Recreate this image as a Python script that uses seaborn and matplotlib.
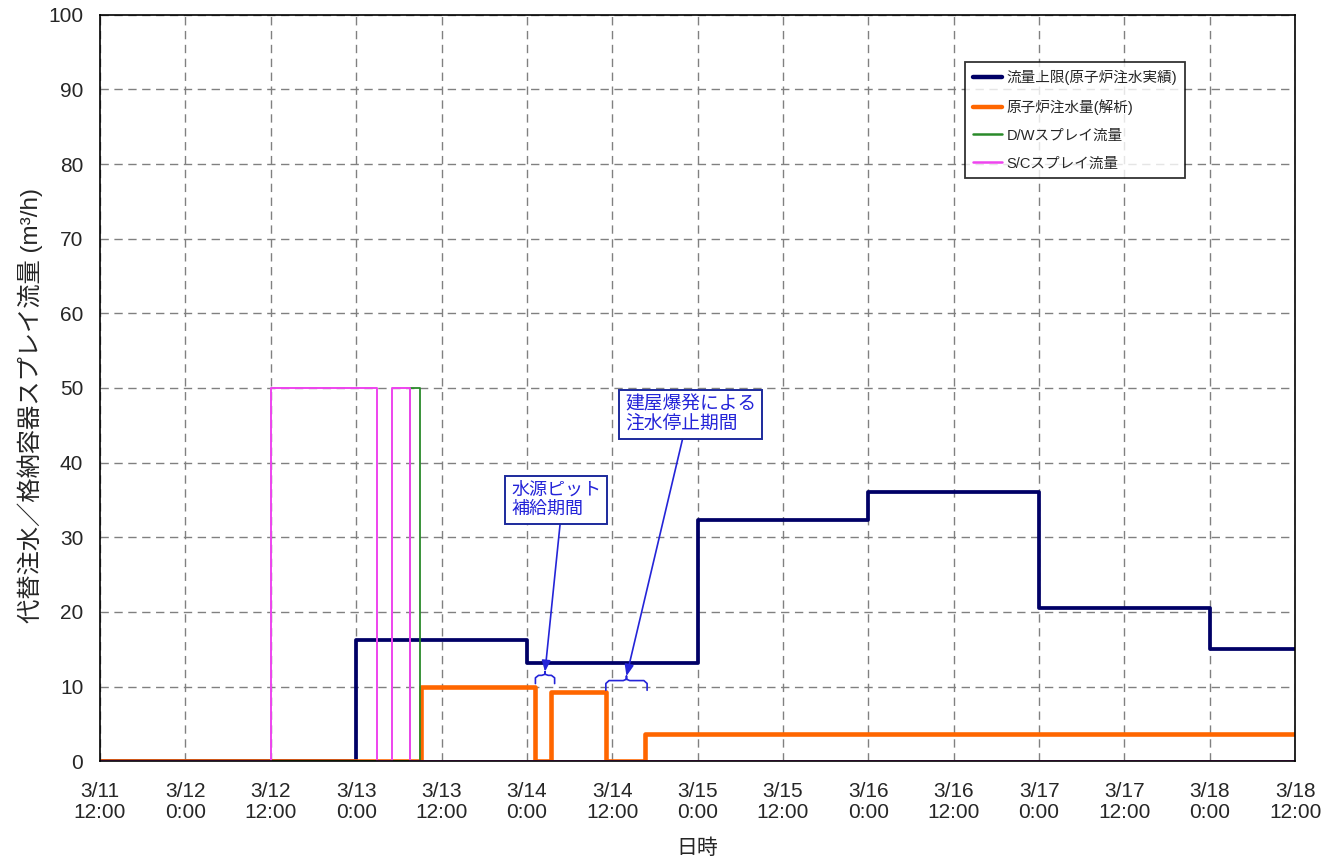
import numpy as np
import pandas as pd
import matplotlib
matplotlib.use("Agg")
import matplotlib.pyplot as plt
import seaborn as sns

# Hours elapsed since 3/11 12:00
x_ticks = list(range(0, 169, 12))
x_tick_labels = ["3/11\n12:00", "3/12\n0:00", "3/12\n12:00", "3/13\n0:00", "3/13\n12:00",
                 "3/14\n0:00", "3/14\n12:00", "3/15\n0:00", "3/15\n12:00", "3/16\n0:00",
                 "3/16\n12:00", "3/17\n0:00", "3/17\n12:00", "3/18\n0:00", "3/18\n12:00"]
y_ticks = list(range(0, 101, 10))

# Step series: time of each change (h) and the value held from that time on (m3/h)
limit_t = [0, 36, 60, 84, 108, 132, 156, 168]
limit_v = [0, 16.2, 13.2, 32.3, 36.0, 20.5, 15.0, 15.0]

rpv_t = [0, 45.1, 61.2, 63.4, 71.1, 76.6, 168]
rpv_v = [0, 10.0, 0, 9.3, 0, 3.6, 3.6]

dw_t = [0, 43.6, 45.0, 168]
dw_v = [0, 50, 0, 0]

sc_t = [0, 24.0, 39.0, 41.1, 43.6, 168]
sc_v = [0, 50, 0, 50, 0, 0]

series_names = ["流量上限(原子炉注水実績)", "原子炉注水量(解析)", "D/Wスプレイ流量", "S/Cスプレイ流量"]
series_colors = ["#000066", "#ff6600", "#2a8a2a", "#ee44ee"]
series_widths = [2.7, 3.3, 1.3, 1.4]

sns.set_theme(style="white")
plt.rcParams["font.family"] = ["Liberation Sans", "Noto Sans CJK JP", "DejaVu Sans"]

fig = plt.figure(figsize=(13.23, 8.65), dpi=100)
ax = fig.add_axes([0.0756, 0.120, 0.9034, 0.863])

for (t, v), name, c, lw in zip([(limit_t, limit_v), (rpv_t, rpv_v), (dw_t, dw_v), (sc_t, sc_v)],
                               series_names, series_colors, series_widths):
    df = pd.DataFrame({"t": t, "v": v})
    sns.lineplot(data=df, x="t", y="v", ax=ax, drawstyle="steps-post", estimator=None,
                 sort=False, color=c, linewidth=lw, label=name)

ax.set_xlim(0, 168)
ax.set_ylim(0, 100)
ax.set_xticks(x_ticks)
ax.set_xticklabels(x_tick_labels, fontsize=15, linespacing=1.12)
ax.set_yticks(y_ticks)
ax.set_yticklabels([str(v) for v in y_ticks], fontsize=15)
ax.tick_params(direction="in", length=4, color="black")
ax.tick_params(axis="y", pad=12)
ax.tick_params(axis="x", pad=15)
ax.grid(True, linestyle=(0, (6, 4)), color="#808080", linewidth=1.0)
for s in ax.spines.values():
    s.set_color("black")
    s.set_linewidth(1.2)

ax.set_xlabel("日時", fontsize=15, labelpad=12)
ax.set_ylabel("代替注水／格納容器スプレイ流量 (m³/h)", fontsize=17.5)
ax.yaxis.set_label_coords(-0.048, 0.477)

leg = ax.legend(loc="upper right", bbox_to_anchor=(0.908, 0.937), fontsize=10.5,
                frameon=True, fancybox=False, handlelength=2.0, borderpad=0.55,
                labelspacing=0.95, handletextpad=0.3, borderaxespad=0)
leg.get_frame().set_edgecolor("black")
leg.get_frame().set_linewidth(1.3)
for h, lw in zip(leg.get_lines(), [3.2, 3.2, 1.8, 1.8]):
    h.set_linewidth(lw)

note_color = "#2424d8"


def brace(x0, x1, y0, h, tip):
    """Small curly brace opening downward spanning x0..x1."""
    xm = (x0 + x1) / 2
    r = min(0.45, (x1 - x0) / 6)
    xs = [x0, x0, x0 + r, xm - r, xm, xm, xm, xm + r, x1 - r, x1, x1]
    ys = [y0, y0 + h * 0.7, y0 + h, y0 + h, y0 + h + tip * 0.3, y0 + h + tip,
          y0 + h + tip * 0.3, y0 + h, y0 + h, y0 + h * 0.7, y0]
    ax.plot(xs, ys, color=note_color, linewidth=1.2)
    return xm, y0 + h + tip


# Refill period of the water-source pit (first gap in injection)
bx1, by1 = brace(rpv_t[2], rpv_t[3] + 0.5, 10.4, 1.1, 0.5)
# Injection halted after the building explosion (second gap)
bx2, by2 = brace(rpv_t[4], rpv_t[5] + 0.3, 9.5, 1.3, 0.6)

box = dict(boxstyle="square,pad=0.33", facecolor="white", edgecolor="#1c2a9c", linewidth=1.4)
arrow = dict(arrowstyle="-|>,head_length=0.5,head_width=0.2", color=note_color, linewidth=1.2,
             shrinkA=0, shrinkB=0)
ax.annotate("水源ピット\n補給期間", xy=(bx1, by1), xytext=(57.8, 35.0), fontsize=13,
            color=note_color, ha="left", va="center", bbox=box,
            arrowprops=dict(arrow, relpos=(0.55, 0.0)), linespacing=1.15, zorder=5)
ax.annotate("建屋爆発による\n注水停止期間", xy=(bx2, by2), xytext=(73.8, 46.5), fontsize=13.5,
            color=note_color, ha="left", va="center", bbox=box,
            arrowprops=dict(arrow, relpos=(0.45, 0.0)), linespacing=1.15, zorder=5)

fig.savefig("out.png", dpi=100)
